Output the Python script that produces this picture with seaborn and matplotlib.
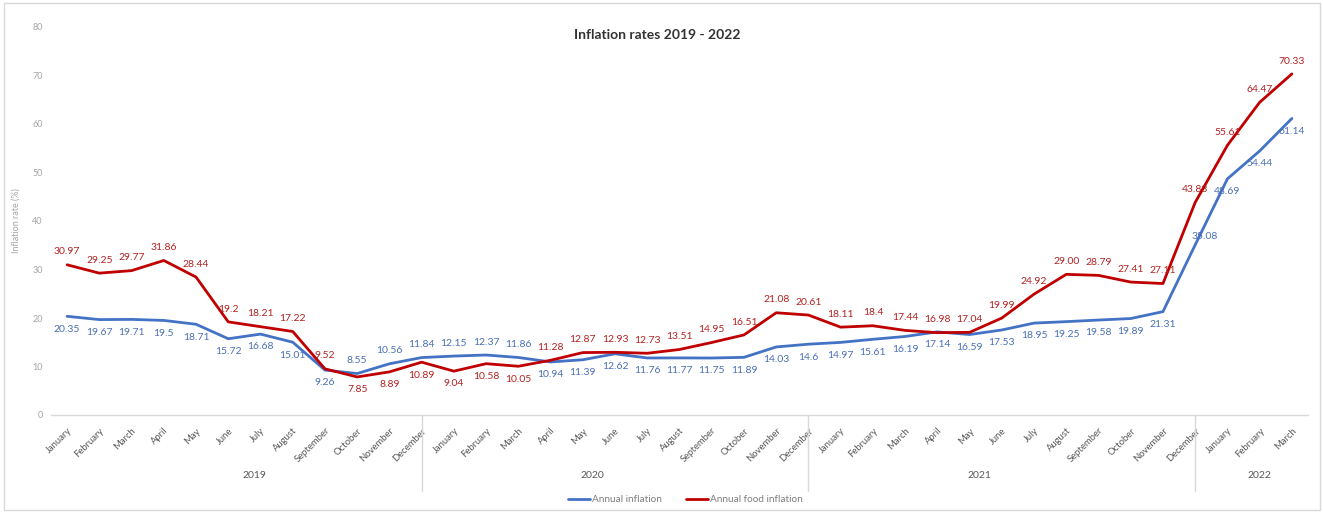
import numpy as np
import pandas as pd
import matplotlib
matplotlib.use("Agg")
import matplotlib.pyplot as plt
import matplotlib.transforms as mtransforms
from matplotlib.patches import Rectangle
from matplotlib.lines import Line2D
import seaborn as sns

# ---------------- data ----------------
years = ["2019", "2020", "2021", "2022"]
months = ["January", "February", "March", "April", "May", "June", "July",
          "August", "September", "October", "November", "December"]
month_labels = months * 3 + months[:3]
year_of_point = ["2019"] * 12 + ["2020"] * 12 + ["2021"] * 12 + ["2022"] * 3

annual_inflation = [20.35, 19.67, 19.71, 19.5, 18.71, 15.72, 16.68, 15.01, 9.26, 8.55, 10.56, 11.84,
                    12.15, 12.37, 11.86, 10.94, 11.39, 12.62, 11.76, 11.77, 11.75, 11.89, 14.03, 14.6,
                    14.97, 15.61, 16.19, 17.14, 16.59, 17.53, 18.95, 19.25, 19.58, 19.89, 21.31, 35.08,
                    48.69, 54.44, 61.14]
food_inflation = [30.97, 29.25, 29.77, 31.86, 28.44, 19.2, 18.21, 17.22, 9.52, 7.85, 8.89, 10.89,
                  9.04, 10.58, 10.05, 11.28, 12.87, 12.93, 12.73, 13.51, 14.95, 16.51, 21.08, 20.61,
                  18.11, 18.4, 17.44, 16.98, 17.04, 19.99, 24.92, 29.00, 28.79, 27.41, 27.11, 43.83,
                  55.61, 64.47, 70.33]
annual_text = ["20.35", "19.67", "19.71", "19.5", "18.71", "15.72", "16.68", "15.01", "9.26", "8.55", "10.56", "11.84",
               "12.15", "12.37", "11.86", "10.94", "11.39", "12.62", "11.76", "11.77", "11.75", "11.89", "14.03", "14.6",
               "14.97", "15.61", "16.19", "17.14", "16.59", "17.53", "18.95", "19.25", "19.58", "19.89", "21.31", "35.08",
               "48.69", "54.44", "61.14"]
food_text = ["30.97", "29.25", "29.77", "31.86", "28.44", "19.2", "18.21", "17.22", "9.52", "7.85", "8.89", "10.89",
             "9.04", "10.58", "10.05", "11.28", "12.87", "12.93", "12.73", "13.51", "14.95", "16.51", "21.08", "20.61",
             "18.11", "18.4", "17.44", "16.98", "17.04", "19.99", "24.92", "29.00", "28.79", "27.41", "27.11", "43.83",
             "55.61", "64.47", "70.33"]
series_names = ["Annual inflation", "Annual food inflation"]

# label placement (a = above, b = below, r = right)
annual_place = ["b"] * 39
for i in (9, 10, 11, 12, 13, 14):
    annual_place[i] = "a"
annual_place[35] = "r"
food_place = ["a"] * 39
for i in (9, 10, 11, 12, 13, 14):
    food_place[i] = "b"

# ---------------- styling ----------------
sns.set_theme(style="white")
plt.rcParams["font.family"] = ["Lato", "DejaVu Sans"]

BLUE = "#4472C4"
RED = "#C00000"
GRAY = "#7F7F7F"
LIGHT = "#D9D9D9"

n = len(month_labels)
idx = np.arange(n)
df = pd.DataFrame({
    "idx": np.concatenate([idx, idx]),
    "value": annual_inflation + food_inflation,
    "series": [series_names[0]] * n + [series_names[1]] * n,
})

fig = plt.figure(figsize=(13.23, 5.13), dpi=100)
ax = fig.add_axes([51 / 1323, 1 - 415 / 513, (1308 - 51) / 1323, (415 - 27) / 513])

sns.lineplot(data=df, x="idx", y="value", hue="series", palette=[BLUE, RED],
             linewidth=2.0, sort=False, legend=False, ax=ax)

ax.set_xlim(-0.5, n - 0.5)
ax.set_ylim(0, 80)
ax.set_yticks(np.arange(0, 81, 10))
ax.set_yticklabels([str(v) for v in range(0, 81, 10)], fontsize=6.5, color="#A6A6A6")
ax.set_xticks(idx)
ax.set_xticklabels(month_labels, rotation=45, ha="right", rotation_mode="anchor",
                   fontsize=6.8, color="#595959")
ax.tick_params(axis="x", length=0, pad=8)
ax.tick_params(axis="y", length=0, pad=6)
ax.set_xlabel("")
ax.set_ylabel("Inflation rate (%)", fontsize=6.5, color="#A6A6A6", labelpad=8)
for s in ("top", "right", "left"):
    ax.spines[s].set_visible(False)
ax.spines["bottom"].set_color(LIGHT)
ax.spines["bottom"].set_linewidth(1.0)
ax.grid(False)

# data labels
def put_labels(vals, texts, places, color):
    for i, (v, t, p) in enumerate(zip(vals, texts, places)):
        if p == "a":
            off, va, ha = (0, 6), "bottom", "center"
        elif p == "b":
            off, va, ha = (0, -6), "top", "center"
        else:
            off, va, ha = (7, 6), "center", "center"
        ax.annotate(t, (i, v), xytext=off, textcoords="offset points",
                    ha=ha, va=va, fontsize=7.5, color=color)

put_labels(annual_inflation, annual_text, annual_place, "#4A6FB5")
put_labels(food_inflation, food_text, food_place, "#B22222")

# year group separators and labels
trans = mtransforms.blended_transform_factory(ax.transData, ax.transAxes)
for sep in (11, 23, 35):
    ax.plot([sep, sep], [0, -0.195], transform=trans, color=LIGHT, lw=1.0, clip_on=False)
year_pos = [5.8, 16.3, 28.3, 37.0]
for yr, xp in zip(years, year_pos):
    ax.text(xp, -0.155, yr, transform=trans, ha="center", va="center",
            fontsize=7.5, color="#595959")

# title
fig.text(0.497, 1 - 35 / 513, "Inflation rates 2019 - 2022", ha="center", va="center",
         fontsize=10, fontweight="bold", color="#333333")

# legend
handles = [Line2D([0], [0], color=BLUE, lw=2.0), Line2D([0], [0], color=RED, lw=2.0)]
fig.legend(handles, series_names, loc="center", bbox_to_anchor=(0.518, 1 - 500 / 513),
           ncol=2, frameon=False, fontsize=7.2, labelcolor=GRAY, handlelength=2.2,
           handletextpad=0.2, columnspacing=2.5)

# chart border
fig.patches.append(Rectangle((4 / 1323, 3 / 513), 1316 / 1323, 507 / 513,
                             transform=fig.transFigure, fill=False,
                             edgecolor=LIGHT, lw=1.0))

fig.savefig("out.png", dpi=100, facecolor="white")
